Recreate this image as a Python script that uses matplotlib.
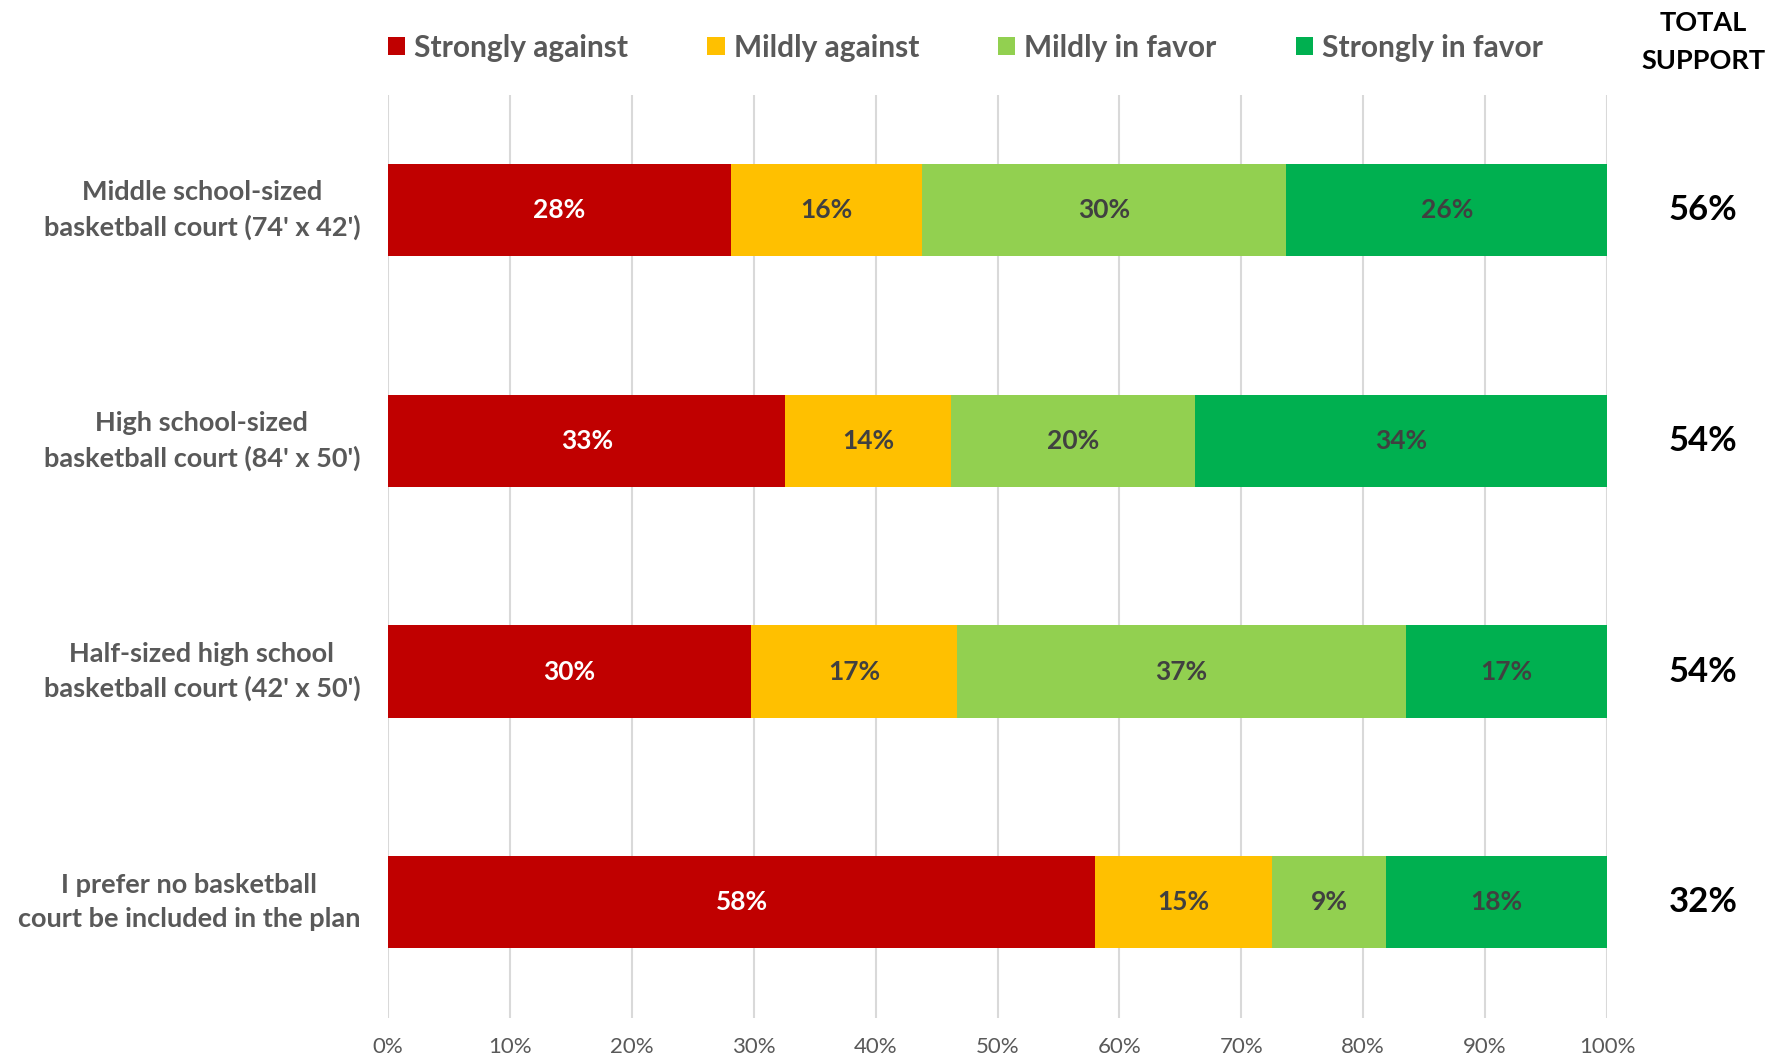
import matplotlib
matplotlib.use("Agg")
import matplotlib.pyplot as plt
from matplotlib.patches import Patch
import numpy as np

plt.rcParams['font.family'] = ['Lato', 'DejaVu Sans']

# survey rows, top to bottom
categories = ["Middle school-sized\nbasketball court (74' x 42')",
              "High school-sized\nbasketball court (84' x 50')",
              "Half-sized high school\nbasketball court (42' x 50')",
              "I prefer no basketball\ncourt be included in the plan"]
series = ["Strongly against", "Mildly against", "Mildly in favor", "Strongly in favor"]
strongly_against = [28.1, 32.6, 29.8, 58.0]
mildly_against = [15.7, 13.6, 16.9, 14.5]
mildly_favor = [29.9, 20.0, 36.8, 9.4]
strongly_favor = [26.3, 33.8, 16.5, 18.1]
# printed labels
lab_sa = ["28%", "33%", "30%", "58%"]
lab_ma = ["16%", "14%", "17%", "15%"]
lab_mf = ["30%", "20%", "37%", "9%"]
lab_sf = ["26%", "34%", "17%", "18%"]
total_support = ["56%", "54%", "54%", "32%"]

colors = ["#C00000", "#FFC000", "#92D050", "#00B050"]
text_colors = ["white", "#404040", "#404040", "#404040"]

fig = plt.figure(figsize=(17.87, 10.59), dpi=100)
ax = fig.add_axes([0.2171, 0.039, 0.6822, 0.8717])

y = np.arange(len(categories))
left = np.zeros(len(categories))
vals = [strongly_against, mildly_against, mildly_favor, strongly_favor]
labs = [lab_sa, lab_ma, lab_mf, lab_sf]
for s, v, lb, c, tc in zip(series, vals, labs, colors, text_colors):
    v = np.array(v)
    bars = ax.barh(y, v, left=left, height=0.4, color=c, label=s, zorder=2)
    ax.bar_label(bars, labels=lb, label_type='center', color=tc,
                 fontsize=19, fontweight='bold')
    left += v

ax.set_xlim(0, 100)
ax.set_ylim(3.5, -0.5)
ax.set_xticks(np.arange(0, 101, 10))
ax.set_xticklabels([f"{t}%" for t in range(0, 101, 10)], color="#595959", fontsize=16)
ax.set_yticks(y)
ax.set_yticklabels(categories, color="#595959", fontsize=19.5, fontweight='bold',
                   multialignment='center', linespacing=1.5, va='center')
ax.tick_params(axis='both', length=0)
ax.tick_params(axis='x', pad=14)
ax.tick_params(axis='y', pad=20)
ax.xaxis.grid(True, color="#D9D9D9", linewidth=1.5, zorder=0)
ax.set_axisbelow(True)
for sp in ax.spines.values():
    sp.set_visible(False)

# total support column
for yi, t in zip(y, total_support):
    ax.text(1.0788, yi, t, transform=ax.get_yaxis_transform(), ha='center', va='center',
            fontsize=25, fontweight='bold', color='black')
fig.text(0.953, 0.96, "TOTAL\nSUPPORT", ha='center', va='center', fontsize=19.5,
         fontweight='bold', color='black', linespacing=1.7)

handles = [Patch(facecolor=c) for c in colors]
leg = fig.legend(handles, series, loc='center left', bbox_to_anchor=(0.2171, 0.955),
                 ncol=4, frameon=False, fontsize=21.5, handlelength=0.58, handleheight=0.58,
                 handletextpad=0.3, columnspacing=2.65, borderaxespad=0, borderpad=0)
for t in leg.get_texts():
    t.set_color("#595959")
    t.set_fontweight('bold')

fig.savefig("out.png", dpi=100)
